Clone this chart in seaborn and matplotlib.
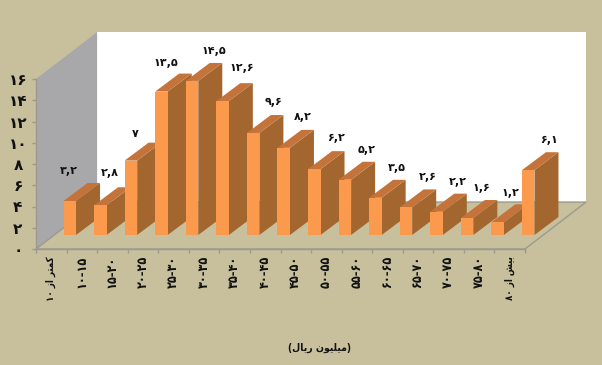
import unicodedata

import matplotlib

matplotlib.use("Agg")
import matplotlib.pyplot as plt
import pandas as pd
import seaborn as sns
from matplotlib.patches import Polygon

categories = [
    "کمتر از ۱۰", "۱۰-۱۵", "۱۵-۲۰", "۲۰-۲۵", "۲۵-۳۰", "۳۰-۳۵", "۳۵-۴۰", "۴۰-۴۵",
    "۴۵-۵۰", "۵۰-۵۵", "۵۵-۶۰", "۶۰-۶۵", "۶۵-۷۰", "۷۰-۷۵", "۷۵-۸۰", "بیش از ۸۰",
]
values = [3.2, 2.8, 7, 13.5, 14.5, 12.6, 9.6, 8.2, 6.2, 5.2, 3.5, 2.6, 2.2, 1.6, 1.2, 6.1]
y_ticks = [0, 2, 4, 6, 8, 10, 12, 14, 16]
x_title = "میلیون ریال"

# przesuniecia etykiet wzgledem slupka (piksele)
label_dx = [-1, 9.5, 4, 4, 22, 19, 20, 19, 21.5, 22, 21.4, 22, 21.3, 14, 13, 20.6]
label_dy = [12, 14, 8.6, 10.6, 12, 15, 13, 13, 13, 12, 12, 12, 12, 12, 11, 12]

BG = "#C8C09C"
FRONT = "#FB9A4C"
SIDE = "#A4662F"
TOP = "#C4743A"
WALL = "#A8A8AA"
EDGE = "#9A9A8E"

# glebia wykresu 3D w jednostkach osi
FLOOR_X, FLOOR_Y = 2.0, 4.42
SHIFT_X, SHIFT_Y = 0.605, 1.32
BAR_X, BAR_Y = 0.785, 1.69
BAR_W = 0.41

# matplotlib nie laczy liter arabskich, wiec formy wybieramy sami
FORMS = {}
for code in range(0xFB50, 0xFEFD):
    parts = unicodedata.decomposition(chr(code)).split()
    if len(parts) == 2 and parts[0] in ("<isolated>", "<final>", "<initial>", "<medial>"):
        FORMS[(chr(int(parts[1], 16)), parts[0].strip("<>"))] = chr(code)
NO_NEXT = set("ارزژدذو")


def shape_word(word):
    if word[0] not in "۰۱۲۳۴۵۶۷۸۹-" and not word[0].isascii():
        out = []
        for i, ch in enumerate(word):
            after_join = i > 0 and word[i - 1] not in NO_NEXT
            before_join = i < len(word) - 1 and ch not in NO_NEXT
            if after_join and before_join:
                form = "medial"
            elif after_join:
                form = "final"
            elif before_join:
                form = "initial"
            else:
                form = "isolated"
            out.append(FORMS.get((ch, form), ch))
        return "".join(reversed(out))
    return word


def shape(text):
    return " ".join(shape_word(w) for w in reversed(text.split()))


def persian_number(v):
    digits = f"{v:g}".replace(".", ",")
    return digits.translate(str.maketrans("0123456789", "۰۱۲۳۴۵۶۷۸۹"))


sns.set_theme(style="white")
plt.rcParams["font.family"] = ["DejaVu Sans"]

fig = plt.figure(figsize=(6.02, 3.65), dpi=100, facecolor=BG)
ax = fig.add_axes([36 / 602, 116 / 365, 489 / 602, 170 / 365])
ax.set_facecolor(BG)

df = pd.DataFrame({"category": categories, "value": values})
sns.barplot(data=df, x="category", y="value", color=FRONT, saturation=1, width=BAR_W, errorbar=None, linewidth=0, ax=ax)

ax.set_xlim(-0.5, len(categories) - 0.5)
ax.set_ylim(0, y_ticks[-1])
xmin, xmax = ax.get_xlim()

# sciany i podloga
ax.add_patch(Polygon(
    [(xmin + FLOOR_X, FLOOR_Y), (xmax + FLOOR_X, FLOOR_Y), (xmax + FLOOR_X, 16 + FLOOR_Y), (xmin + FLOOR_X, 16 + FLOOR_Y)],
    facecolor="white", edgecolor="none", clip_on=False, zorder=0.5))
ax.add_patch(Polygon(
    [(xmin, 0), (xmin + FLOOR_X, FLOOR_Y), (xmin + FLOOR_X, 16 + FLOOR_Y), (xmin, 16)],
    facecolor=WALL, edgecolor="none", clip_on=False, zorder=0.6))
ax.add_patch(Polygon(
    [(xmin, 0), (xmax, 0), (xmax + FLOOR_X, FLOOR_Y), (xmin + FLOOR_X, FLOOR_Y)],
    facecolor=BG, edgecolor=EDGE, linewidth=1.0, clip_on=False, zorder=0.7))

# slupki 3D: przod z barplot, bok i gora dorysowane
for i, bar in enumerate(ax.patches[:len(values)]):
    z = 3 + i * 0.1
    x0 = bar.get_x() + SHIFT_X
    x1 = x0 + bar.get_width()
    y0 = SHIFT_Y
    y1 = values[i] + SHIFT_Y
    bar.set_x(x0)
    bar.set_y(y0)
    bar.set_clip_on(False)
    bar.set_zorder(z + 0.02)
    ax.add_patch(Polygon(
        [(x1, y0), (x1 + BAR_X, y0 + BAR_Y), (x1 + BAR_X, y1 + BAR_Y), (x1, y1)],
        facecolor=SIDE, edgecolor="none", clip_on=False, zorder=z))
    ax.add_patch(Polygon(
        [(x0, y1), (x1, y1), (x1 + BAR_X, y1 + BAR_Y), (x0 + BAR_X, y1 + BAR_Y)],
        facecolor=TOP, edgecolor="none", clip_on=False, zorder=z + 0.01))
    ax.annotate(
        persian_number(values[i]),
        xy=((x0 + x1) / 2, y1 + BAR_Y),
        xytext=(label_dx[i], label_dy[i]),
        textcoords="offset pixels",
        ha="center",
        va="center",
        fontsize=8,
        fontweight="bold",
        color="#111111",
        annotation_clip=False,
        zorder=10,
    )

# osie
sns.despine(ax=ax)
for side in ("left", "bottom"):
    ax.spines[side].set_color(EDGE)
    ax.spines[side].set_linewidth(1.0)
    ax.spines[side].set_zorder(1)

ax.set_xlabel("")
ax.set_ylabel("")
ax.set_yticks(y_ticks)
ax.set_yticklabels([persian_number(v) for v in y_ticks], ha="center", fontsize=11, fontweight="bold", color="#111111")
ax.tick_params(axis="y", length=3, width=1, color=EDGE, pad=10, left=True)
ax.set_xticks(range(len(categories)))
ax.set_xticklabels(
    [shape(c) for c in categories],
    rotation=90, ha="center", va="top", fontsize=9, fontweight="bold", fontstretch="condensed", color="#111111",
)
# dluzsze etykiety tekstowe sa w oryginale mniejsze
ax.get_xticklabels()[0].set_fontsize(7)
ax.get_xticklabels()[-1].set_fontsize(7)
ax.set_xticks([i - 0.5 for i in range(len(categories) + 1)], minor=True)
ax.tick_params(axis="x", which="major", length=0, pad=5)
ax.tick_params(axis="x", which="minor", length=3, width=1, color=EDGE, bottom=True)

fig.text(320 / 602, 1 - 348 / 365, "(" + shape(x_title) + ")", ha="center", va="center", fontsize=7.5, fontweight="bold", fontstretch="condensed", color="#111111")

fig.savefig("out.png", dpi=100, facecolor=BG)
